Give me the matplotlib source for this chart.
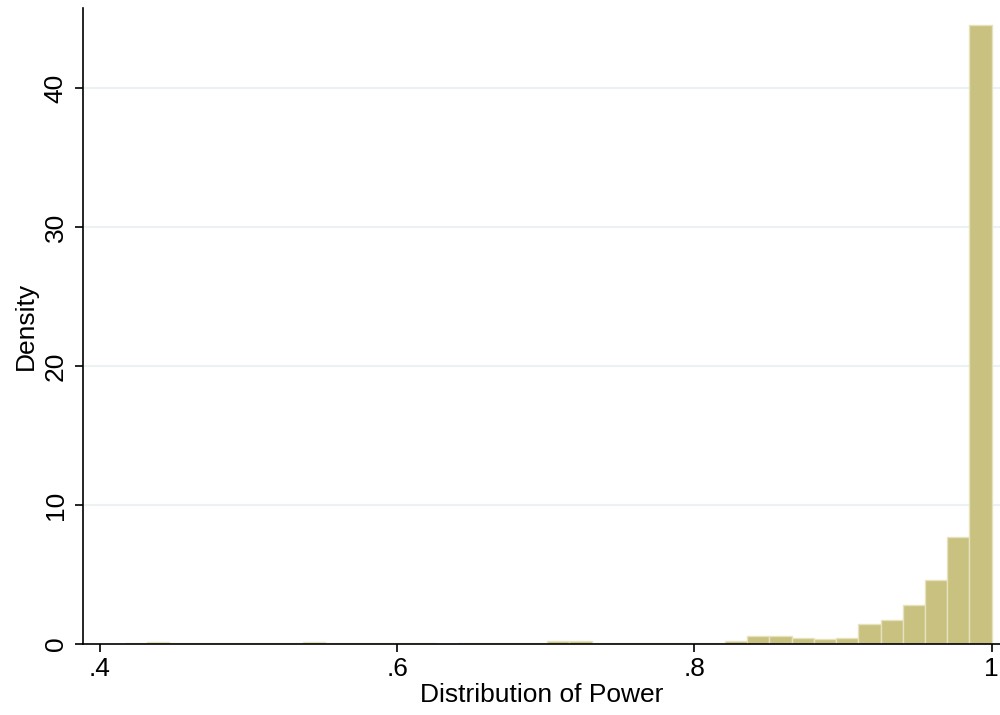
import numpy as np
import matplotlib
matplotlib.use("Agg")
import matplotlib.pyplot as plt

plt.rcParams['font.family'] = ['Liberation Sans', 'DejaVu Sans']

# Histogram of power: 39 equal-width bins from 0.4168 to 1.0
bin_start = 0.4168
bin_end = 1.0
n_bins = 39
density = [0.05, 0.12, 0.05, 0.05, 0.05, 0.05, 0.05, 0.07, 0.12, 0.05,
           0.05, 0.05, 0.05, 0.05, 0.0, 0.08, 0.05, 0.10, 0.05, 0.18,
           0.20, 0.10, 0.10, 0.05, 0.05, 0.10, 0.10, 0.20, 0.55, 0.55,
           0.45, 0.35, 0.42, 1.42, 1.72, 2.80, 4.60, 7.70, 44.5]

x_ticks = [0.4, 0.6, 0.8, 1.0]
x_ticklabels = ['.4', '.6', '.8', '1']
y_ticks = [0, 10, 20, 30, 40]
y_ticklabels = ['0', '10', '20', '30', '40']

edges = np.linspace(bin_start, bin_end, n_bins + 1)
width = edges[1] - edges[0]

fig = plt.figure(figsize=(10, 7.15), dpi=100)
ax = fig.add_axes([0.083, 0.0993, 0.917, 0.8895])

for y in y_ticks[1:]:
    ax.axhline(y, color='#EAF2F3', lw=1.5, zorder=0)

ax.bar(edges[:-1], density, width=width, align='edge',
       color='#C9C17F', edgecolor='#E6E2BE', linewidth=1.0, zorder=2)

ax.set_xlim(0.3886, 1.0056)
ax.set_ylim(0, 45.75)

ax.set_xticks(x_ticks)
ax.set_xticklabels(x_ticklabels)
ax.set_yticks(y_ticks)
ax.set_yticklabels(y_ticklabels, rotation=90, va='center')

ax.tick_params(axis='both', direction='out', length=6, width=1.2,
               labelsize=19, color='black')
ax.tick_params(axis='x', pad=3)
ax.tick_params(axis='y', pad=5)

for side in ['top', 'right']:
    ax.spines[side].set_visible(False)
for side in ['left', 'bottom']:
    ax.spines[side].set_linewidth(1.2)
    ax.spines[side].set_zorder(3)

ax.set_xlabel('Distribution of Power', fontsize=19, labelpad=2)
ax.set_ylabel('Density', fontsize=19, labelpad=4)

fig.savefig('out.png', dpi=100, facecolor='white')
